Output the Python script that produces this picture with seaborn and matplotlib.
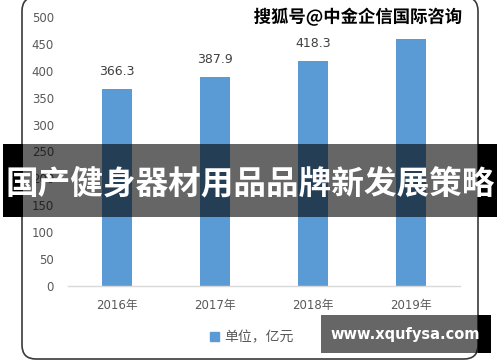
import matplotlib
matplotlib.use("Agg")
import matplotlib.pyplot as plt
import seaborn as sns
import pandas as pd
from matplotlib.patches import FancyBboxPatch, Rectangle, Patch
import matplotlib.patheffects as pe

# ---- data ----
years = ["2016年", "2017年", "2018年", "2019年"]
values = [366.3, 387.9, 418.3, 459.8]
bar_labels = ["366.3", "387.9", "418.3", ""]
y_ticks = [0, 50, 100, 150, 200, 250, 300, 350, 400, 450, 500]
legend_label = "单位，亿元"
banner_text = "国产健身器材用品品牌新发展策略"
watermark_text = "搜狐号@中金企信国际咨询"
site_text = "www.xqufysa.com"

sns.set_theme(style="white")
plt.rcParams['font.family'] = ['DejaVu Sans', 'Noto Sans CJK SC']

W, H = 500, 362
fig = plt.figure(figsize=(5, 3.62), dpi=100)
fig.patch.set_facecolor("white")


def px(x0, y0, x1, y1):
    return [x0 / W, 1 - y1 / H, (x1 - x0) / W, (y1 - y0) / H]


# background frame
bg = fig.add_axes([0, 0, 1, 1], zorder=0)
bg.set_xlim(0, W)
bg.set_ylim(H, 0)
bg.axis("off")
bg.add_patch(FancyBboxPatch((22, -3), 456, 362,
                            boxstyle="round,pad=0,rounding_size=14",
                            fc="white", ec="#3a3a3a", lw=1.2))

# chart
ax = fig.add_axes(px(68, 17, 460, 286), zorder=1)
ax.patch.set_alpha(0)
df = pd.DataFrame({"year": years, "value": values})
sns.barplot(data=df, x="year", y="value", color="#5B9BD5", saturation=1,
            width=0.31, linewidth=0, ax=ax)
ax.set_ylim(0, 500)
ax.set_xlim(-0.5, 3.5)
ax.set_yticks(y_ticks)
ax.set_xlabel("")
ax.set_ylabel("")
for s in ["left", "top", "right"]:
    ax.spines[s].set_visible(False)
ax.spines["bottom"].set_color("#d9d9d9")
ax.spines["bottom"].set_linewidth(1)
ax.tick_params(axis="y", length=0, labelsize=8.5, colors="#595959", pad=10)
ax.tick_params(axis="x", length=0, labelsize=8.5, colors="#595959", pad=9)
ax.bar_label(ax.containers[0], labels=bar_labels, padding=8, fontsize=9,
             color="#404040")

ax.legend(handles=[Patch(color="#5B9BD5", label=legend_label)],
          loc="center", bbox_to_anchor=(252 / W, 1 - 337 / H),
          bbox_transform=fig.transFigure, frameon=False,
          handlelength=0.6, handleheight=0.6, handletextpad=0.4,
          prop={"family": ["Noto Sans CJK SC"], "size": 10},
          labelcolor="#595959")

# overlays
ov = fig.add_axes([0, 0, 1, 1], zorder=5)
ov.patch.set_alpha(0)
ov.set_xlim(0, W)
ov.set_ylim(H, 0)
ov.axis("off")

# banner
ov.add_patch(Rectangle((3, 144), 494, 73, fc="black", alpha=0.6, lw=0))
ov.add_patch(Rectangle((3, 144), 19.5, 73, fc="black", lw=0))
ov.add_patch(Rectangle((477.5, 144), 19.5, 73, fc="black", lw=0))
ov.text(250, 184, banner_text, color="white", fontsize=23.5,
        fontweight="bold", ha="center", va="center",
        family=["Noto Sans CJK SC"])

# watermark
ov.text(358, 17, watermark_text, color="black", fontsize=12.5,
        fontweight="bold", ha="center", va="center",
        family=["Noto Sans CJK SC", "DejaVu Sans"],
        path_effects=[pe.withStroke(linewidth=3, foreground="white")])

# site box
ov.add_patch(Rectangle((321, 315), 170, 38, fc="black", alpha=0.6, lw=0))
ov.add_patch(Rectangle((477.5, 315), 13.5, 38, fc="black", lw=0))
ov.text(405, 335, site_text, color="white", fontsize=10.5,
        fontweight="bold", ha="center", va="center", family=["DejaVu Sans"])

fig.savefig("out.png", dpi=100)
